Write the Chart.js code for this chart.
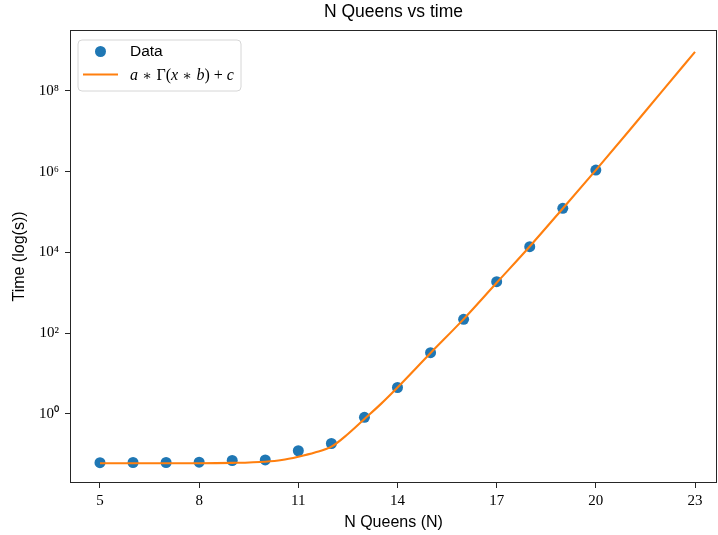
<!DOCTYPE html>
<html>
<head>
<meta charset="utf-8">
<script src="https://cdn.jsdelivr.net/npm/chart.js@4.4.1/dist/chart.umd.min.js"></script>
<style>
  body { margin: 0; background: #fff; }
  canvas { display: block; }
</style>
</head>
<body>
<canvas id="chart" width="718" height="535"></canvas>
<script>
// measured data (N queens, time in s)
const queens = [5, 6, 7, 8, 9, 10, 11, 12, 13, 14, 15, 16, 17, 18, 19, 20];
const times = [0.0622, 0.0629, 0.0629, 0.0640, 0.0705, 0.0726, 0.123, 0.186,
  0.828, 4.53, 33.0, 221, 1890, 13900, 124000, 1.10e6];

// fitted curve a*Gamma(x*b)+c
const fitX = [5, 6, 7, 8, 9, 10, 10.5, 11, 11.5, 12, 12.5, 13, 13.5, 14,
  15, 16, 17, 18, 19, 20, 21, 22, 23];
const fitY = [0.0601, 0.0601, 0.0602, 0.0602, 0.0615, 0.0659, 0.0724, 0.0875,
  0.111, 0.155, 0.320, 0.752, 1.78, 4.53, 32.4, 224, 1780, 14100, 123000,
  1.10e6, 1.02e7, 9.8e7, 9.3e8];

const xTicks = [5, 8, 11, 14, 17, 20, 23];
const yTicks = [1, 1e2, 1e4, 1e6, 1e8];
const yTickLabels = ['10⁰', '10²', '10⁴', '10⁶', '10⁸'];

const blue = '#1f77b4';
const orange = '#ff7f0e';
const spine = '#262626';

// box around the plot + legend inside it
const frame = {
  id: 'frame',
  afterDraw(chart) {
    const { ctx, chartArea: a } = chart;
    ctx.save();
    ctx.strokeStyle = spine;
    ctx.lineWidth = 1;
    ctx.strokeRect(a.left + 0.5, a.top + 0.5, a.right - a.left - 1, a.bottom - a.top - 1);

    // legend
    const lx = 78, ly = 40, lw = 163, lh = 51, r = 4;
    ctx.beginPath();
    ctx.moveTo(lx + r, ly);
    ctx.arcTo(lx + lw, ly, lx + lw, ly + lh, r);
    ctx.arcTo(lx + lw, ly + lh, lx, ly + lh, r);
    ctx.arcTo(lx, ly + lh, lx, ly, r);
    ctx.arcTo(lx, ly, lx + lw, ly, r);
    ctx.closePath();
    ctx.fillStyle = 'rgba(255,255,255,0.8)';
    ctx.fill();
    ctx.strokeStyle = '#d6d6d6';
    ctx.stroke();

    ctx.fillStyle = blue;
    ctx.beginPath();
    ctx.arc(100.5, 51.5, 5.5, 0, Math.PI * 2);
    ctx.fill();

    ctx.strokeStyle = orange;
    ctx.lineWidth = 2;
    ctx.beginPath();
    ctx.moveTo(83, 74.5);
    ctx.lineTo(118, 74.5);
    ctx.stroke();

    ctx.fillStyle = '#000';
    ctx.textBaseline = 'middle';
    ctx.font = '15.5px "Liberation Sans", Arial, sans-serif';
    ctx.fillText('Data', 130, 52);

    // a*Γ(x*b)+c  — italic letters, upright symbols
    const parts = [['a', 1], [' ∗ ', 2], ['Γ(', 0], ['x', 1], [' ∗ ', 2], ['b', 1], [')', 0], [' + ', 0], ['c', 1]];
    let x = 130;
    ctx.textBaseline = 'alphabetic';
    for (const [t, kind] of parts) {
      if (kind === 2) ctx.font = '14px "DejaVu Serif", serif';
      else ctx.font = (kind ? 'italic ' : '') + '16px "Liberation Serif", serif';
      ctx.fillText(t, x, 80);
      x += ctx.measureText(t).width;
    }
    ctx.restore();
  }
};

new Chart(document.getElementById('chart'), {
  type: 'scatter',
  data: {
    datasets: [
      {
        label: 'Data',
        data: queens.map((q, i) => ({ x: q, y: times[i] })),
        backgroundColor: blue,
        borderWidth: 0,
        pointRadius: 5.5,
        order: 2
      },
      {
        label: 'a*Γ(x*b)+c',
        data: fitX.map((q, i) => ({ x: q, y: fitY[i] })),
        showLine: true,
        borderColor: orange,
        borderWidth: 2.1,
        pointRadius: 0,
        cubicInterpolationMode: 'monotone',
        order: 1
      }
    ]
  },
  options: {
    responsive: false,
    animation: false,
    layout: { autoPadding: false, padding: { left: 0, right: 1, top: 0, bottom: 0 } },
    plugins: {
      legend: { display: false },
      tooltip: { enabled: false },
      title: {
        display: true,
        text: 'N Queens vs time',
        fullSize: false,
        color: '#000',
        font: { family: '"Liberation Sans", Arial, sans-serif', size: 17.5, weight: 'normal' },
        padding: { top: 1.5, bottom: 7.5 }
      }
    },
    scales: {
      x: {
        type: 'linear',
        min: 4.093,
        max: 23.665,
        afterBuildTicks: (s) => { s.ticks = xTicks.map(v => ({ value: v })); },
        afterFit: (s) => { s.height = 52; s.paddingLeft = 0; s.paddingRight = 0; },
        ticks: {
          color: '#000',
          padding: 4,
          font: { family: '"Liberation Serif", serif', size: 15 }
        },
        grid: { drawOnChartArea: false, color: spine, tickLength: 5, tickWidth: 1 },
        border: { display: false },
        title: {
          display: true,
          text: 'N Queens (N)',
          color: '#000',
          font: { family: '"Liberation Sans", Arial, sans-serif', size: 16 },
          padding: { top: 0, bottom: 2.4 }
        }
      },
      y: {
        type: 'logarithmic',
        min: 0.01954,
        max: 3.24e9,
        afterBuildTicks: (s) => { s.ticks = yTicks.map(v => ({ value: v })); },
        afterFit: (s) => { s.width = 70; s.paddingTop = 0; s.paddingBottom = 0; },
        ticks: {
          color: '#000',
          padding: 6,
          font: { family: '"Liberation Serif", serif', size: 15 },
          callback: (v) => yTickLabels[yTicks.indexOf(v)]
        },
        grid: { drawOnChartArea: false, color: spine, tickLength: 5, tickWidth: 1 },
        border: { display: false },
        title: {
          display: true,
          text: 'Time (log(s))',
          color: '#000',
          font: { family: '"Liberation Sans", Arial, sans-serif', size: 16 },
          padding: { top: 10, bottom: 0 }
        }
      }
    }
  },
  plugins: [frame]
});
</script>
</body>
</html>
